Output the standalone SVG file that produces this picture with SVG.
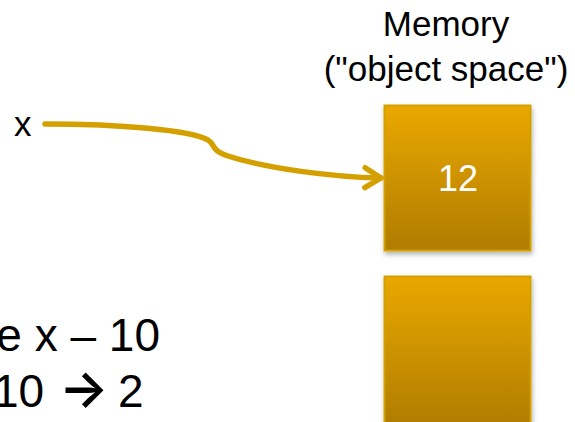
<svg xmlns="http://www.w3.org/2000/svg" width="575" height="422" viewBox="0 0 575 422">
<defs>
<linearGradient id="gold" x1="0" y1="0" x2="0" y2="1">
<stop offset="0" stop-color="#E9A800"/>
<stop offset="1" stop-color="#B07C00"/>
</linearGradient>
<filter id="sh" x="-10%" y="-10%" width="130%" height="130%">
<feDropShadow dx="1" dy="3" stdDeviation="2.5" flood-color="#000" flood-opacity="0.3"/>
</filter>
<marker id="chev" viewBox="0 0 12 12" refX="10" refY="6" markerWidth="12" markerHeight="12" markerUnits="userSpaceOnUse" orient="auto" overflow="visible">
<path d="M-6,-4 L10,6 L-6,16" fill="none" stroke="#D4A000" stroke-width="5.5" stroke-linecap="round" stroke-linejoin="round"/>
</marker>
<style>
.t{font-family:"Liberation Sans",Arial,sans-serif;fill:#000}
.box{fill:url(#gold);stroke:#D4A000;stroke-width:2;filter:url(#sh)}
.conn{fill:none;stroke:#D4A000;stroke-width:5.5;stroke-linecap:round}
</style>
</defs>
<g id="memory-label">
<text class="t" x="446" y="36" font-size="35" text-anchor="middle">Memory</text>
<text class="t" x="446" y="81" font-size="35" text-anchor="middle">("object space")</text>
</g>
<g id="var-x">
<text class="t" x="14" y="136" font-size="35">x</text>
</g>
<g id="obj-12">
<rect class="box" x="384.5" y="105.5" width="146" height="145"/>
<text x="458" y="191" font-size="36" text-anchor="middle" font-family="Liberation Sans, Arial, sans-serif" fill="#fff">12</text>
</g>
<g id="obj-empty">
<rect class="box" x="384.5" y="276.5" width="146" height="150"/>
</g>
<g id="expr">
<text class="t" x="160" y="351" font-size="46" text-anchor="end">e x – 10</text>
<text class="t" y="407" font-size="46"><tspan x="-7">10</tspan><tspan x="59" font-family="Inter, sans-serif" font-weight="600" font-size="52">→</tspan><tspan x="118">2</tspan></text>
</g>
<g id="connectors">
<path class="conn" marker-end="url(#chev)" d="M45,124 C120,124 190,130 208,140 C216,145 210,150 228,156 C265,168 330,177 381,178"/>
</g>
</svg>
